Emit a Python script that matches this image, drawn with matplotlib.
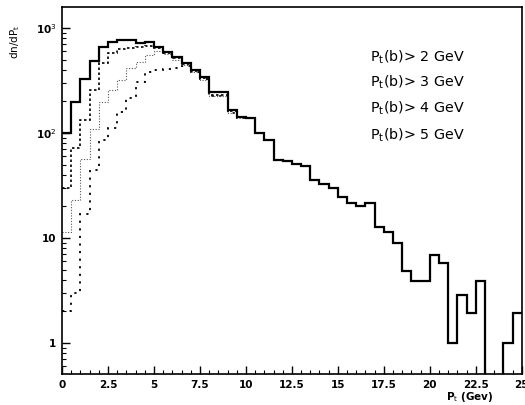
import matplotlib.pyplot as plt
import numpy as np

# bin edges in GeV (50 bins of 0.5 GeV)
BIN_EDGES = np.arange(0.0, 25.01, 0.5)

# dn/dPt per bin
PT_B_GT_2 = [100, 197, 327, 485, 659, 735, 769, 769, 720, 735,
             659, 590, 529, 464, 398, 341, 246, 246, 166, 142,
             139, 100, 86, 55, 54, 51, 48, 36, 33, 30,
             24.6, 21.5, 20, 21.5, 12.7, 11.4, 9.0, 4.85, 3.9, 3.9,
             6.9, 5.8, 1.0, 2.86, 1.93, 3.9, 0, 0, 1.0, 1.93]
PT_B_GT_3 = [30, 72, 133, 257, 464, 575, 630, 646, 660, 670,
             640, 575, 515, 455, 390, 330, 232, 232, 160, 142]
PT_B_GT_4 = [11.4, 23, 57, 110, 197, 257, 317, 415, 475, 550,
             600, 560, 500, 440, 380, 320, 225, 225, 155, 140]
PT_B_GT_5 = [2, 3, 17, 44, 86, 112, 158, 215, 305, 380,
             400, 405, 415, 435, 380, 327, 225, 225, 155, 140]

LABELS = [r"P$_\mathrm{t}$(b)> 2 GeV", r"P$_\mathrm{t}$(b)> 3 GeV",
          r"P$_\mathrm{t}$(b)> 4 GeV", r"P$_\mathrm{t}$(b)> 5 GeV"]
X_TICKS = [0, 2.5, 5, 7.5, 10, 12.5, 15, 17.5, 20, 22.5, 25]
X_TICK_LABELS = ["0", "2.5", "5", "7.5", "10", "12.5", "15", "17.5", "20", "22.5", "25"]


def tail_like_solid(vals):
    # the tighter cuts coincide with the solid curve at high pt
    n = len(vals)
    return list(vals) + PT_B_GT_2[n:]


def main():
    fig = plt.figure(figsize=(5.25, 4.05), dpi=100)
    ax = fig.add_axes([0.118, 0.0765, 0.876, 0.9065])
    ax.set_yscale("log")

    ax.stairs(tail_like_solid(PT_B_GT_5), BIN_EDGES, baseline=None,
              color="black", linewidth=1.3, linestyle=(0, (1.2, 3.0)))
    ax.stairs(tail_like_solid(PT_B_GT_4), BIN_EDGES, baseline=None,
              color="#555555", linewidth=0.8, linestyle=(0, (1.0, 1.5)))
    ax.stairs(tail_like_solid(PT_B_GT_3), BIN_EDGES, baseline=None,
              color="black", linewidth=1.2, linestyle=(0, (1.5, 1.5)))
    ax.stairs(PT_B_GT_2, BIN_EDGES, baseline=None,
              color="black", linewidth=1.6)

    ax.set_xlim(0, 25)
    ax.set_ylim(0.507, 1585)

    ax.set_xticks(X_TICKS)
    ax.set_xticklabels(X_TICK_LABELS, fontsize=7.5, fontweight="bold")
    ax.set_xticks(BIN_EDGES, minor=True)
    ax.set_yticks([1, 10, 100, 1000])
    ax.set_yticklabels(["1", "10", r"10$^2$", r"10$^3$"], fontsize=7.5,
                       fontweight="bold")
    ax.tick_params(which="major", direction="in", length=6, width=1.0, pad=4)
    ax.tick_params(which="minor", direction="in", length=3, width=0.8)
    ax.yaxis.set_minor_locator(plt.matplotlib.ticker.LogLocator(
        base=10, subs=np.arange(2, 10)))
    ax.yaxis.set_minor_formatter(plt.NullFormatter())
    for side in ax.spines.values():
        side.set_linewidth(1.2)

    for label, yy in zip(LABELS, [57, 82, 108, 135]):
        fig.text(370 / 525, 1 - yy / 405, label, fontsize=10.3,
                 ha="left", va="center")

    fig.text(15 / 525, 1 - 42 / 405, r"dn/dP$_\mathrm{t}$", rotation=90,
             fontsize=7.5, ha="center", va="center")
    fig.text(470 / 525, 1 - 397 / 405, r"P$_\mathrm{t}$ (Gev)", fontsize=7.5,
             fontweight="bold", ha="center", va="center")

    fig.savefig("out.png", dpi=100)
    plt.close(fig)


if __name__ == "__main__":
    main()
